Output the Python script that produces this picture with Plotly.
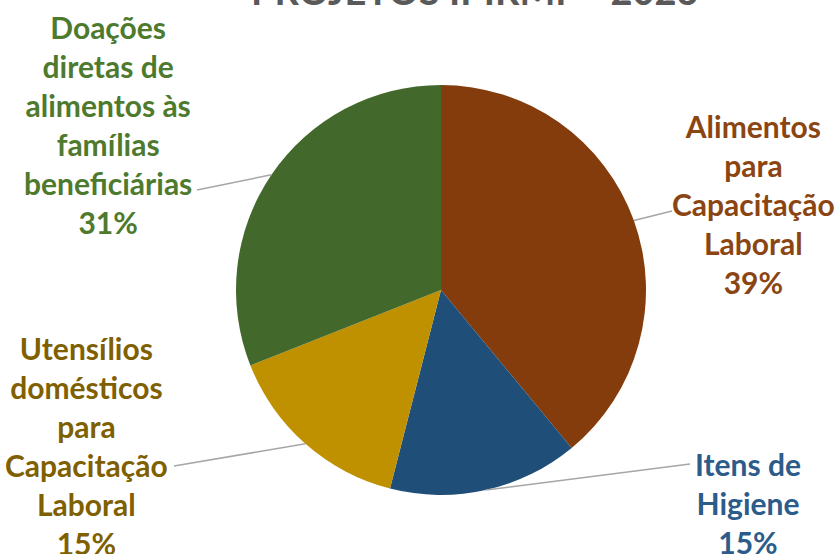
import math
import plotly.graph_objects as go

# ---- data ----
categories = [
    "Alimentos para Capacitação Laboral",
    "Itens de Higiene",
    "Utensílios domésticos para Capacitação Laboral",
    "Doações diretas de alimentos às famílias beneficiárias",
]
label_lines = [
    ["Alimentos", "para", "Capacitação", "Laboral"],
    ["Itens de", "Higiene"],
    ["Utensílios", "domésticos", "para", "Capacitação", "Laboral"],
    ["Doações", "diretas de", "alimentos às", "famílias", "beneficiárias"],
]
values = [39, 15, 15, 31]
title_text = "PROJETOS IPIRMP - 2023"

# ---- styles / layout ----
slice_colors = ["#843C0C", "#1F4E79", "#BF9000", "#43682B"]
label_colors = ["#8B4513", "#2B5C8A", "#7F6000", "#4E7A2E"]
W, H = 837, 554
cx, cy, r = 441, 290, 205
# label centre positions and leader-line anchor points (pixels from top-left)
label_pos = [(753, 204), (748, 503), (86, 445), (108, 125)]
leader_anchor = [(672, 211), (690, 464), (174, 466), (197, 190)]

fig = go.Figure(go.Pie(
    labels=categories,
    values=values,
    sort=False,
    direction="clockwise",
    rotation=0,
    marker=dict(colors=slice_colors, line=dict(width=0)),
    textinfo="none",
    hoverinfo="label+percent",
    showlegend=False,
    domain=dict(x=[(cx - r) / W, (cx + r) / W], y=[(H - cy - r) / H, (H - cy + r) / H]),
))

total = sum(values)
cum = 0
annotations = []
shapes = []
for i, v in enumerate(values):
    mid = (cum + v / 2) / total * 2 * math.pi
    cum += v
    ex = cx + r * math.sin(mid)
    ey = cy - r * math.cos(mid)
    ax_, ay_ = leader_anchor[i]
    shapes.append(dict(type="line", xref="paper", yref="paper",
                       x0=ex / W, y0=1 - ey / H, x1=ax_ / W, y1=1 - ay_ / H,
                       line=dict(color="#A6A6A6", width=1.5)))
    pct = round(v / total * 100)
    text = "<br>".join(label_lines[i] + [f"{pct}%"])
    lx, ly = label_pos[i]
    annotations.append(dict(x=lx / W, y=1 - ly / H, xref="paper", yref="paper",
                            text=f"<b>{text}</b>", showarrow=False,
                            xanchor="center", yanchor="middle", align="center",
                            font=dict(family="Lato", size=30, color=label_colors[i])))

annotations.append(dict(x=475 / W, y=1 + 10 / H, xref="paper", yref="paper",
                        text=f"<b>{title_text}</b>", showarrow=False,
                        xanchor="center", yanchor="middle",
                        font=dict(family="Lato", size=38, color="#595959")))

fig.update_layout(
    width=W, height=H,
    margin=dict(l=0, r=0, t=0, b=0),
    paper_bgcolor="white",
    plot_bgcolor="white",
    annotations=annotations,
    shapes=shapes,
)

fig.write_html("out.html", config={"displayModeBar": False},
               post_script="document.body.style.margin='0';")
